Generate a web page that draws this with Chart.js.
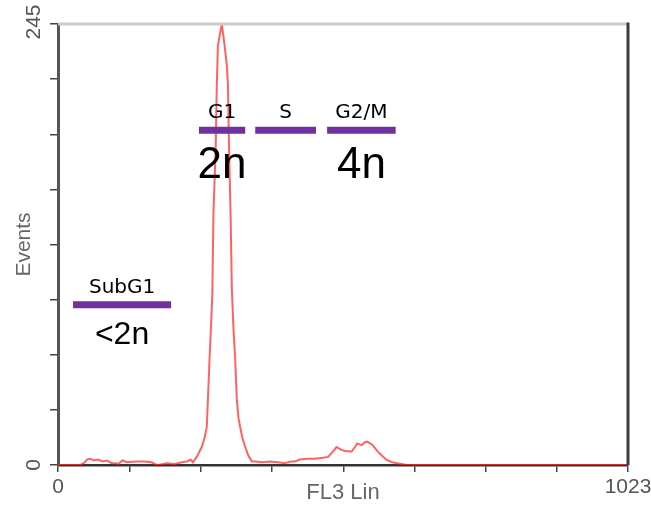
<!DOCTYPE html>
<html>
<head>
<meta charset="utf-8">
<script src="https://cdn.jsdelivr.net/npm/chart.js@4/dist/chart.umd.min.js"></script>
<style>
  html, body { margin: 0; padding: 0; background: #fff; }
  canvas { display: block; }
</style>
</head>
<body>
<canvas id="histo" width="651" height="506"></canvas>
<script>
// histogram (FL3 channel -> events)
const fl3Channel = [0, 40, 48, 52, 58, 64, 72, 80, 88, 96, 104, 108, 116, 124, 140, 156, 168, 174, 180, 196, 208, 222, 232, 238, 242,
    249, 258, 263, 267, 269, 272, 275, 277, 279, 283, 285, 287, 291, 294, 297, 299, 303, 305, 307, 310, 312, 315, 318, 321, 324, 327, 331, 336, 342, 348,
    355, 365, 380, 395, 407, 418, 425, 434, 447, 461, 475, 485, 492, 500, 508, 515, 527, 533, 537, 545, 550, 555, 560, 565, 570, 574, 582, 590, 600, 608, 617, 626, 1023];
const eventCount = [0, 0, 1.5, 3, 3.5, 2.5, 3, 2, 2.5, 1, 1, 0.5, 2.5, 1.5, 2, 2, 1.5, 0.5, 0, 1, 0.5, 1.5, 2, 3, 1.5,
    4.5, 10, 15, 21, 36, 59, 80, 95, 140, 176, 211, 233, 240, 245, 238, 233, 222, 211, 176, 135, 98, 75, 59, 36, 26, 21, 15, 10, 5, 2,
    2, 1.5, 2, 1.5, 1, 2, 2, 3, 3.5, 3.5, 4, 4.5, 7, 10, 8.5, 7.8, 7.5, 10, 12, 11, 12.5, 13, 12, 11, 9, 7.4, 5, 2.8, 1.5, 1, 0.5, 0, 0];

// gates
const phaseNames = ['SubG1', 'G1', 'S', 'G2/M'];
const phaseFrom = [27, 253, 354, 483];
const phaseTo = [203, 336, 463, 606];
const phaseLevel = [89, 186, 186, 186];
const ploidy = ['<2n', '2n', '', '4n'];

// axes
const xTicks = [0, 128, 256, 384, 512, 640, 768, 896, 1023];
const xTickLabels = ['0', '', '', '', '', '', '', '', '1023'];
const yTicks = [0, 30.625, 61.25, 91.875, 122.5, 153.125, 183.75, 214.375, 245];
const yTickLabels = ['0', '', '', '', '', '', '', '', '245'];

const PURPLE = '#7030a0';
const ploidySize = [32, 44, 44, 44];

// 축 라벨 + 상단/오른쪽 테두리
const framePlugin = {
    id: 'frame',
    afterDatasetsDraw(chart) {
        const { ctx, chartArea: a, scales: { x, y } } = chart;
        ctx.save();
        ctx.lineWidth = 3;
        ctx.strokeStyle = '#cccccc';
        ctx.beginPath();
        ctx.moveTo(a.left, a.top);
        ctx.lineTo(a.right, a.top);
        ctx.stroke();
        ctx.strokeStyle = '#3c3c3c';
        ctx.beginPath();
        ctx.moveTo(a.right, a.top - 1.5);
        ctx.lineTo(a.right, a.bottom);
        ctx.stroke();

        ctx.fillStyle = '#555';
        ctx.font = '21px "Liberation Sans", Arial, sans-serif';
        ctx.textAlign = 'center';
        ctx.textBaseline = 'middle';
        xTicks.forEach((v, i) => {
            if (xTickLabels[i]) ctx.fillText(xTickLabels[i], x.getPixelForValue(v), a.bottom + 22);
        });
        yTicks.forEach((v, i) => {
            if (!yTickLabels[i]) return;
            ctx.save();
            ctx.translate(34, y.getPixelForValue(v) - (i ? 2 : 0));
            ctx.rotate(-Math.PI / 2);
            ctx.fillText(yTickLabels[i], 0, 0);
            ctx.restore();
        });
        ctx.restore();
    }
};

const phaseTextPlugin = {
    id: 'phaseText',
    afterDatasetsDraw(chart) {
        const { ctx, scales: { x, y } } = chart;
        ctx.save();
        ctx.fillStyle = '#000';
        ctx.textAlign = 'center';
        ctx.textBaseline = 'alphabetic';
        phaseNames.forEach((name, i) => {
            const cx = x.getPixelForValue((phaseFrom[i] + phaseTo[i]) / 2);
            const cy = y.getPixelForValue(phaseLevel[i]);
            ctx.font = '20px "DejaVu Sans", sans-serif';
            ctx.fillText(name, cx, cy - 12);
            if (ploidy[i]) {
                const size = ploidySize[i];
                ctx.font = size + 'px "Liberation Sans", Arial, sans-serif';
                ctx.fillText(ploidy[i], cx, cy + (size > 40 ? 48 : 39));
            }
        });
        ctx.restore();
    }
};

document.addEventListener('DOMContentLoaded', () => {
    const gateSets = phaseNames.map((name, i) => ({
        label: name,
        data: [{ x: phaseFrom[i], y: phaseLevel[i] }, { x: phaseTo[i], y: phaseLevel[i] }],
        borderColor: PURPLE,
        borderWidth: 7,
        borderCapStyle: 'butt',
        pointRadius: 0,
        clip: false
    }));

    new Chart(document.getElementById('histo'), {
        type: 'line',
        data: {
            datasets: [
                ...gateSets,
                {
                    label: 'Events',
                    data: fl3Channel.map((c, i) => ({ x: c, y: eventCount[i] })),
                    borderColor: 'rgba(255, 45, 45, 0.75)',
                    borderWidth: 2,
                    pointRadius: 0,
                    tension: 0,
                    fill: false
                }
            ]
        },
        options: {
            responsive: false,
            animation: false,
            layout: { padding: { top: 24, right: 23, left: 0, bottom: 0 } },
            plugins: {
                legend: { display: false },
                tooltip: { enabled: false }
            },
            scales: {
                x: {
                    type: 'linear',
                    min: 0,
                    max: 1023,
                    afterBuildTicks: (s) => { s.ticks = xTicks.map(v => ({ value: v })); },
                    afterFit: (s) => { s.height = 41; s.paddingLeft = 0; s.paddingRight = 0; },
                    ticks: { display: false },
                    grid: { drawOnChartArea: false, drawTicks: true, tickLength: 7, color: '#444', lineWidth: 1.5 },
                    border: { display: true, color: '#333', width: 2.5 },
                    title: {
                        display: true,
                        text: 'FL3 Lin',
                        color: '#666',
                        font: { family: '"Liberation Sans", Arial, sans-serif', size: 22 },
                        padding: { top: 0, bottom: 0 }
                    }
                },
                y: {
                    min: 0,
                    max: 245,
                    afterBuildTicks: (s) => { s.ticks = yTicks.map(v => ({ value: v })); },
                    afterFit: (s) => { s.width = 58; s.paddingTop = 0; s.paddingBottom = 0; },
                    ticks: { display: false },
                    grid: { drawOnChartArea: false, drawTicks: true, tickLength: 8, color: '#444', lineWidth: 1.5 },
                    border: { display: true, color: '#555', width: 3 },
                    title: {
                        display: true,
                        text: 'Events',
                        color: '#666',
                        font: { family: '"Liberation Sans", Arial, sans-serif', size: 21 },
                        padding: { top: 12, bottom: 0 }
                    }
                }
            }
        },
        plugins: [framePlugin, phaseTextPlugin]
    });
});
</script>
</body>
</html>
